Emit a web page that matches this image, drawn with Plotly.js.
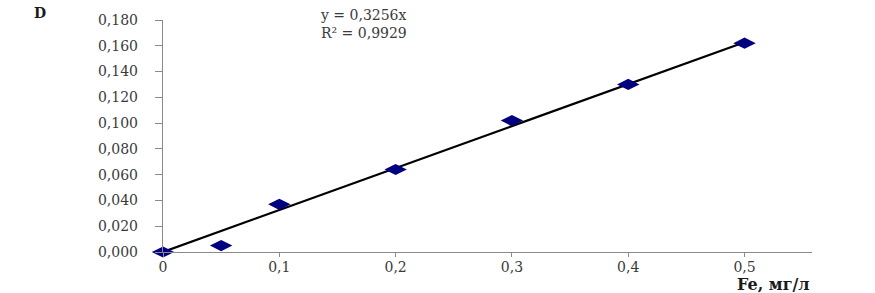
<!DOCTYPE html>
<html>
<head>
<meta charset="utf-8">
<script src="https://cdn.plot.ly/plotly-3.0.1.min.js"></script>
<style>html,body{margin:0;padding:0;background:#fff;}#chart{width:875px;height:293px;}</style>
</head>
<body>
<div id="chart"></div>
<script>
// Data
const feConc = [0, 0.05, 0.1, 0.2, 0.3, 0.4, 0.5];
const absorbance = [0.000, 0.005, 0.037, 0.064, 0.102, 0.130, 0.162];
const slope = 0.3256;
const trendX = [0, 0.5];
const trendY = trendX.map(x => slope * x);
const yTickVals = [0, 0.02, 0.04, 0.06, 0.08, 0.10, 0.12, 0.14, 0.16, 0.18];
const yTickText = ['0,000','0,020','0,040','0,060','0,080','0,100','0,120','0,140','0,160','0,180'];
const xTickVals = [0, 0.1, 0.2, 0.3, 0.4, 0.5];
const xTickText = ['0','0,1','0,2','0,3','0,4','0,5'];
const eqText = 'y = 0,3256x<br>R² = 0,9929';
const yLabel = 'D';
const xLabel = 'Fe, мг/л';

const font = 'DejaVu Serif, Liberation Serif, serif';
const data = [
  {x: trendX, y: trendY, mode: 'lines', line: {color: '#000000', width: 2.2}, hoverinfo: 'skip', showlegend: false, cliponaxis: false},
  {x: feConc, y: absorbance, mode: 'markers', marker: {symbol: 'diamond-wide', size: 16, color: '#000080'}, showlegend: false, cliponaxis: false}
];
const layout = {
  width: 875, height: 293,
  margin: {l: 162.5, r: 63.3, t: 20, b: 41.3},
  paper_bgcolor: '#fff', plot_bgcolor: '#fff',
  font: {family: font, size: 14, color: '#3a3a3a'},
  xaxis: {range: [0, 0.558], tickvals: xTickVals, ticktext: xTickText, showgrid: false, zeroline: false,
    showline: true, linecolor: '#8a8a8a', linewidth: 1.2, ticks: 'outside', ticklen: 4, tickcolor: '#8a8a8a',
    ticklabelstandoff: -2, tickfont: {family: font, size: 14, color: '#3a3a3a'}},
  yaxis: {range: [0, 0.18], tickvals: yTickVals, ticktext: yTickText, showgrid: false, zeroline: false,
    showline: true, linecolor: '#8a8a8a', linewidth: 1.2, ticks: 'outside', ticklen: 7, tickcolor: '#8a8a8a',
    ticklabelstandoff: 14, tickfont: {family: font, size: 14, color: '#3a3a3a'}},
  annotations: [
    {xref: 'paper', yref: 'paper', x: 0.2395, y: 1.065, xanchor: 'left', yanchor: 'top', showarrow: false, align: 'left',
     text: eqText, font: {family: font, size: 14, color: '#3a3a3a'}},
    {xref: 'paper', yref: 'paper', x: -0.19, y: 1.03, xanchor: 'center', yanchor: 'middle', showarrow: false,
     text: '<b>' + yLabel + '</b>', font: {family: font, size: 14, color: '#1a1a1a'}},
    {xref: 'paper', yref: 'paper', x: 1.0, y: -0.14, xanchor: 'right', yanchor: 'middle', showarrow: false,
     text: '<b>' + xLabel + '</b>', font: {family: font, size: 16, color: '#1a1a1a'}}
  ]
};
Plotly.newPlot('chart', data, layout, {displayModeBar: false, staticPlot: true});
</script>
</body>
</html>
